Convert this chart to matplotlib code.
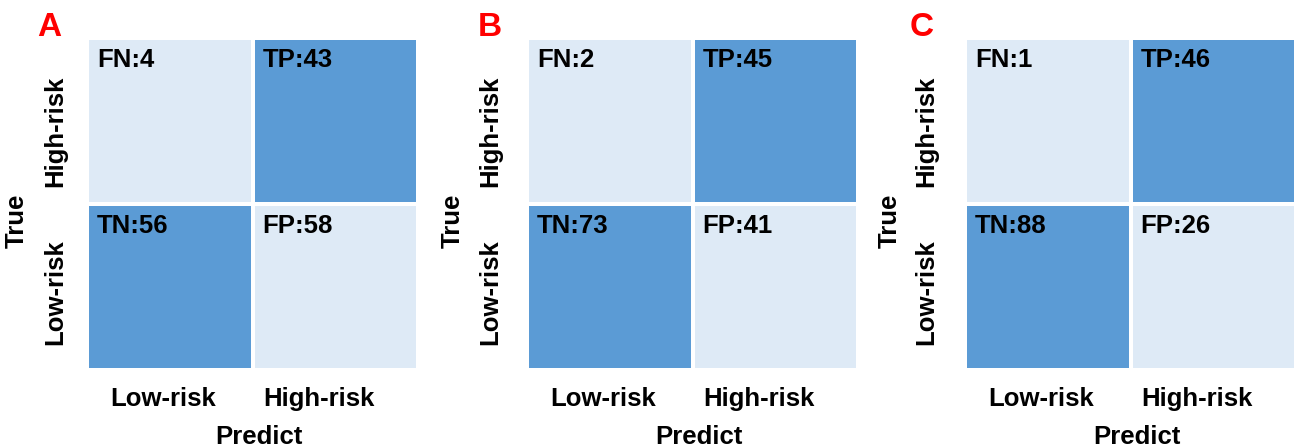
import numpy as np
import matplotlib
matplotlib.use("Agg")
import matplotlib.pyplot as plt
from matplotlib.colors import ListedColormap

plt.rcParams['font.family'] = ['Liberation Sans', 'DejaVu Sans']
plt.rcParams['font.weight'] = 'bold'

# confusion matrix counts for the three panels
panels = ['A', 'B', 'C']
fn = [4, 2, 1]
tp = [43, 45, 46]
tn = [56, 73, 88]
fp = [58, 41, 26]

pred_labels = ['Low-risk', 'High-risk']
true_labels = ['High-risk', 'Low-risk']

light = '#DEEAF6'
dark = '#5B9BD5'

fig = plt.figure(figsize=(12.96, 4.48), dpi=100)
W, H = 1296.0, 448.0
lefts = [87, 527, 965]
top, bottom = 38, 370
letter_x = [49, 490, 922]
ytick_pad = [14, 18, 19]
ylab_x = [-0.175, -0.187, -0.19]

# 1 = correct prediction (dark), 0 = wrong (light)
correct = np.array([[0, 1], [1, 0]])
cmap = ListedColormap([light, dark])
fs = 18.5

for i in range(3):
    ax = fig.add_axes([lefts[i] / W, 1 - bottom / H, 331 / W, (bottom - top) / H])
    ax.pcolormesh(correct, cmap=cmap, vmin=0, vmax=1, edgecolors='white', linewidth=1.5)
    ax.set_xlim(0, 2)
    ax.set_ylim(2, 0)
    names = [['FN', 'TP'], ['TN', 'FP']]
    vals = [[fn[i], tp[i]], [tn[i], fp[i]]]
    for r in range(2):
        for c in range(2):
            ax.text(c + 0.06, r + 0.135, '%s:%d' % (names[r][c], vals[r][c]),
                    fontsize=fs, fontweight='bold', ha='left', va='center')
    ax.set_xticks([0.46, 1.40])
    ax.set_xticklabels(pred_labels)
    ax.set_yticks([0.56, 1.53])
    ax.set_yticklabels(true_labels, rotation=90, va='center')
    ax.tick_params(length=0, labelsize=fs)
    ax.tick_params(axis='x', pad=12)
    ax.tick_params(axis='y', pad=ytick_pad[i])
    ax.set_xlabel('Predict', fontsize=fs, fontweight='bold')
    ax.set_ylabel('True', fontsize=fs, fontweight='bold')
    ax.xaxis.set_label_coords(0.52, -0.165)
    ax.yaxis.set_label_coords(ylab_x[i], 0.45)
    for s in ax.spines.values():
        s.set_visible(False)
    fig.text(letter_x[i] / W, 1 - 27 / H, panels[i], color='red', fontsize=24,
             fontweight='bold', ha='center', va='center')

fig.savefig('out.png', dpi=100)
